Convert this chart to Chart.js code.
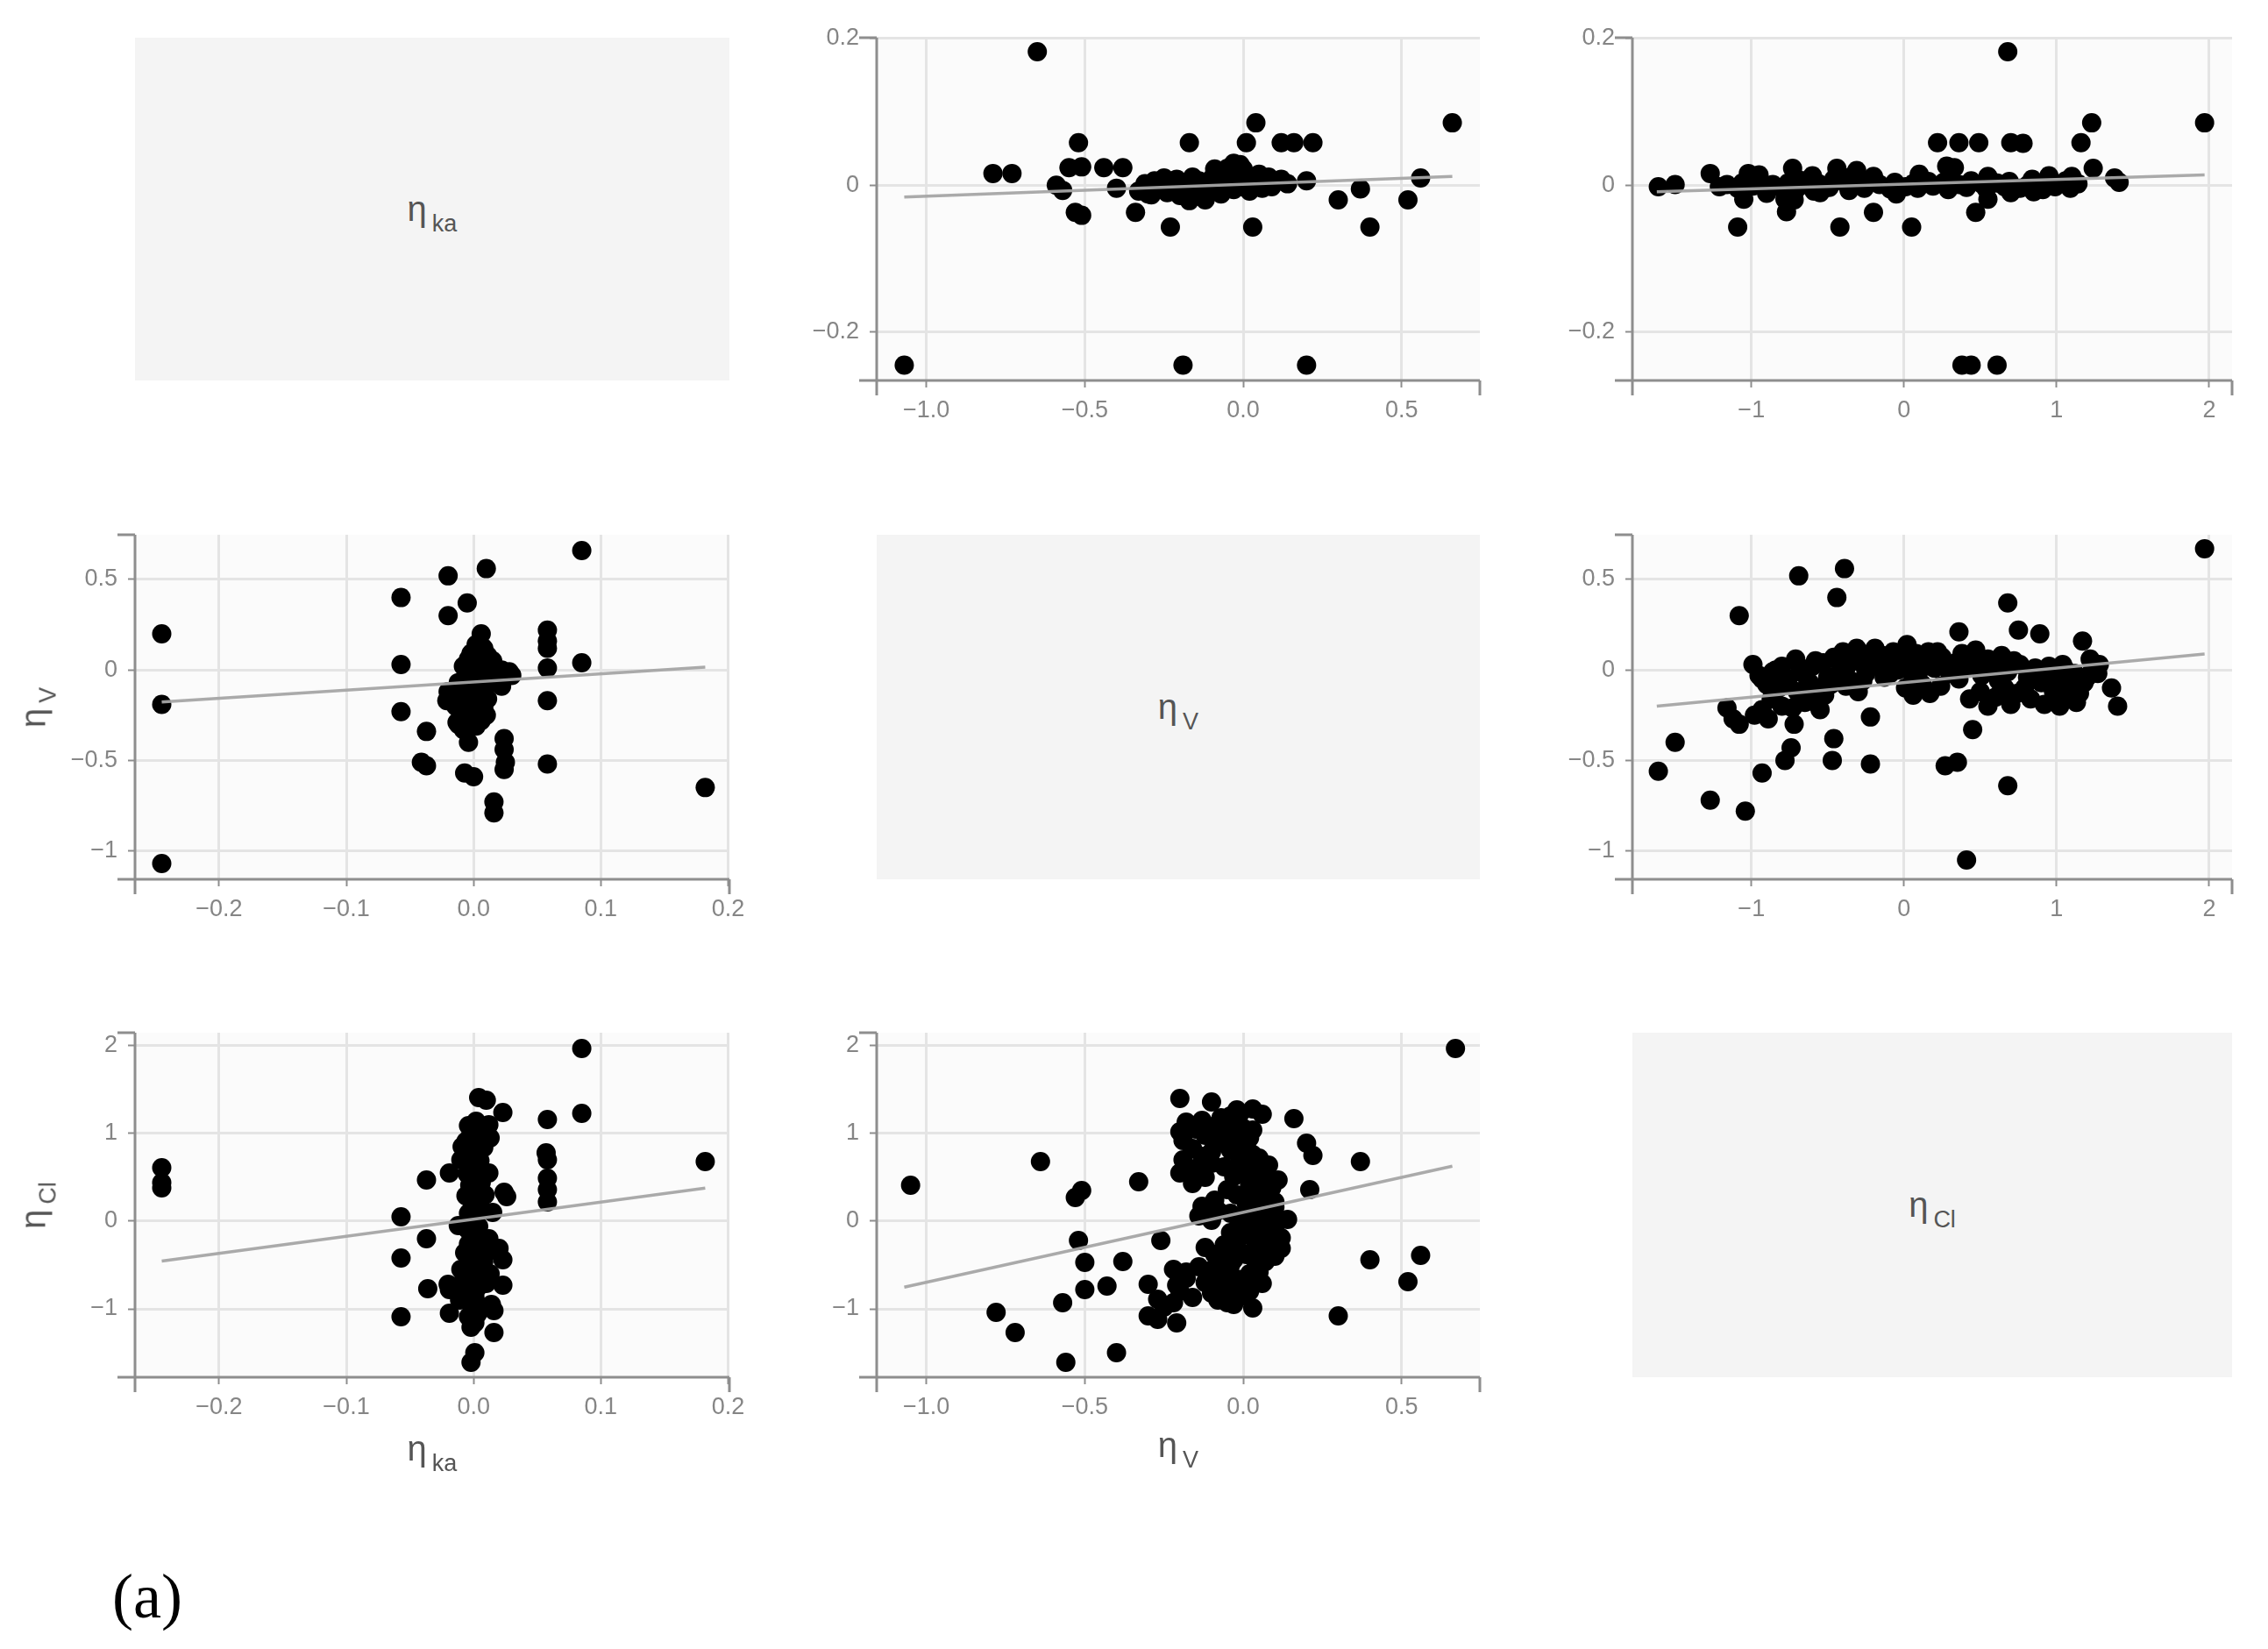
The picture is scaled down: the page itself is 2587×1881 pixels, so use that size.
<!DOCTYPE html>
<html><head><meta charset="utf-8">
<script src="https://cdn.jsdelivr.net/npm/chart.js@4.4.1/dist/chart.umd.min.js"></script>
<style>
html,body{margin:0;padding:0;background:#fff;width:2587px;height:1881px;overflow:hidden;}
body{position:relative;font-family:"Liberation Sans",Arial,sans-serif;}
canvas{position:absolute;}
.diag{position:absolute;background:#f4f4f4;display:flex;align-items:center;justify-content:center;color:#555;font-size:40px;}
.ttl{position:absolute;color:#555;font-size:40px;white-space:nowrap;transform:translate(-50%,-50%);}
.ttl.rot{transform:translate(-50%,-50%) rotate(-90deg);}
.sub{font-size:27px;position:relative;top:0.45em;margin-left:6px;}
.cap{position:absolute;left:128px;top:1780px;font-family:"Liberation Serif","Times New Roman",serif;font-size:72px;color:#000;}
</style>
</head><body>
<script>
// ---------- axis ranges and ticks ----------
const kaRange = [-0.266, 0.201];
const vRange  = [-1.157, 0.747];
const clRange = [-1.78, 2.15];
const kaTicksX = [-0.2, -0.1, 0, 0.1, 0.2];
const kaLabelsX = ["\u22120.2", "\u22120.1", "0.0", "0.1", "0.2"];
const kaTicksY = [-0.2, 0, 0.2];
const kaLabelsY = ["\u22120.2", "0", "0.2"];
const vTicksX = [-1, -0.5, 0, 0.5];
const vLabelsX = ["\u22121.0", "\u22120.5", "0.0", "0.5"];
const vTicksY = [-1, -0.5, 0, 0.5];
const vLabelsY = ["\u22121", "\u22120.5", "0", "0.5"];
const clTicks = [-1, 0, 1, 2];
const clLabels = ["\u22121", "0", "1", "2"];

// ---------- pair data: eta_V vs eta_ka ----------
const kaV_V = [-1.07,-0.19,0.20,-0.65,0.66,0.04,-0.23,0.03,0.40,-0.53,-0.51,-0.34,0.52,0.30,-0.17,-0.12,0.37,-0.57,-0.59,-0.40,0.56,0.20,
 -0.52,-0.17,0.01,0.12,0.16,0.22,-0.79,-0.73,-0.55,-0.51,-0.44,-0.38,0.00,-0.05,-0.09,
 -0.33,-0.31,-0.30,-0.29,-0.28,-0.27,-0.25,-0.24,-0.22,-0.21,-0.20,-0.19,-0.18,-0.16,-0.15,-0.14,-0.13,-0.11,-0.10,-0.09,-0.08,-0.07,-0.06,-0.05,-0.04,-0.03,-0.02,-0.01,0.00,0.01,0.02,0.03,0.04,0.05,0.06,0.07,0.08,0.09,0.10,0.12,0.14,-0.03,-0.01];
const kaV_ka = [-0.245,-0.245,-0.245,0.182,0.085,0.085,-0.057,-0.057,-0.057,-0.037,-0.041,-0.037,-0.020,-0.020,-0.021,-0.020,-0.005,-0.007,0.000,-0.004,0.010,0.006,
 0.058,0.058,0.058,0.058,0.058,0.058,0.016,0.016,0.024,0.025,0.024,0.024,0.022,0.023,0.022,
 -0.008,0.002,-0.012,-0.013,0.006,-0.004,0.010,-0.010,0.000,0.008,-0.014,0.004,-0.006,0.011,-0.002,0.006,-0.010,0.002,0.009,-0.005,0.004,-0.012,0.010,0.000,0.014,-0.006,0.007,-0.002,0.012,0.003,-0.008,0.009,0.000,0.015,-0.004,0.006,0.011,-0.002,0.004,0.008,0.002,0.030,0.028];

// ---------- pair data: eta_Cl vs eta_ka ----------
const kaCl_Cl = [0.68,1.97,1.23,0.38,0.44,0.61,0.22,0.36,0.49,0.70,0.78,1.16,0.05,-0.42,-1.09,0.47,-0.20,-0.77,0.55,-0.72,-0.78,-1.05,
 1.24,0.33,0.28,-0.44,-0.73,-0.31,-1.02,-1.27,-1.61,-1.50,1.38,1.41,-0.72,-0.71,
 1.14,1.09,1.06,0.99,0.96,0.91,0.84,0.81,0.76,0.69,0.66,0.61,0.54,0.51,0.44,0.41,0.36,0.29,0.26,0.19,0.16,0.09,0.06,0.01,
 -0.06,-0.09,-0.16,-0.19,-0.26,-0.29,-0.36,-0.39,-0.46,-0.49,-0.56,-0.59,-0.66,-0.69,-0.76,-0.79,-0.86,-0.89,-0.96,-0.99,-1.06,-1.09,-1.16,-1.21,
 -0.95,-0.60,-0.20,0.10,0.55,0.95,1.10,-0.90,-0.05,0.70,-0.35,0.30,0.85,-0.55];
const kaCl_ka = [0.182,0.085,0.085,-0.245,-0.245,-0.245,0.058,0.058,0.058,0.058,0.057,0.058,-0.057,-0.057,-0.057,-0.037,-0.037,-0.036,-0.019,-0.020,-0.019,-0.019,
 0.023,0.024,0.026,0.023,0.023,0.020,0.016,0.016,-0.002,0.001,0.010,0.004,-0.010,0.010,
 0.002,-0.004,0.006,-0.002,0.004,-0.006,0.008,0.000,-0.004,0.005,-0.002,0.003,-0.005,0.002,0.006,-0.003,0.001,-0.006,0.004,-0.001,0.005,-0.004,0.002,-0.002,
 0.004,-0.005,0.001,0.006,-0.004,0.002,-0.007,0.004,0.008,-0.003,0.002,-0.008,0.006,-0.002,0.003,-0.005,0.001,-0.003,0.004,-0.001,0.003,-0.004,0.001,-0.002,
 0.014,0.013,0.012,0.015,0.012,0.013,0.012,-0.011,-0.012,-0.010,0.011,0.009,-0.009,-0.010];

// ---------- pair data: eta_Cl vs eta_V ----------
const vCl_Cl = [1.97,-0.39,-0.69,-0.44,-1.08,0.68,0.36,0.75,0.89,1.17,-0.99,1.22,1.23,1.36,1.40,0.92,0.45,0.68,0.41,0.27,0.35,-0.22,-0.22,-0.46,-0.47,
 -1.50,-1.61,-1.27,-1.04,-0.93,-0.78,-0.74,-0.73,-0.72,-1.16,-1.12,-1.08,-0.93,-0.89,-0.87,-0.58,-0.55,
 -0.95,-0.90,-0.86,-0.82,-0.80,-0.76,-0.71,-0.70,-0.66,-0.62,-0.60,-0.56,-0.53,-0.50,
 -0.46,-0.44,-0.40,-0.38,-0.35,-0.31,-0.28,-0.25,-0.22,-0.19,-0.16,-0.13,-0.10,-0.07,-0.04,-0.01,0.02,0.05,0.08,
 0.01,0.06,0.12,0.17,0.24,
 0.12,0.16,0.20,0.25,0.30,0.34,0.38,0.42,0.47,0.51,0.55,0.60,0.64,0.68,
 0.43,0.50,0.55,0.60,0.66,0.70,0.74,
 0.76,0.81,0.86,0.90,0.95,1.00,1.04,1.08,1.12,1.15,1.18,1.13,
 1.27,1.28,1.05,0.98,0.83,1.02,-0.52,-0.65,-0.80,-0.98,-0.38,-0.30,
 -0.93,-0.84,-0.78,-0.68,-0.64,-0.58,-0.48,-0.42,-0.33,-0.27,-0.20,-0.14,-0.09,-0.03,0.03,
 0.09,0.14,0.22,0.28,0.36,0.45,0.53,0.62,0.72,0.79,0.88,0.97,1.06,1.10,1.20];
const vCl_V = [0.67,0.56,0.52,0.40,0.30,0.37,0.21,0.22,0.20,0.16,0.03,0.06,-0.01,-0.10,-0.20,-0.19,-0.33,-0.64,-1.05,-0.53,-0.51,-0.26,-0.52,-0.38,-0.50,
 -0.40,-0.56,-0.72,-0.78,-0.57,-0.50,-0.43,-0.21,-0.30,-0.21,-0.27,-0.30,-0.22,-0.27,-0.16,-0.18,-0.22,
 -0.03,-0.08,-0.01,-0.10,0.02,-0.05,0.06,-0.12,-0.02,-0.07,0.02,-0.10,0.04,-0.04,
 0.07,-0.03,0.10,0.01,-0.06,0.12,0.04,-0.02,0.09,0.12,0.02,-0.04,0.06,0.10,0.00,0.05,0.14,0.03,0.09,
 -0.10,-0.14,-0.08,-0.13,-0.09,
 0.05,0.10,0.01,0.07,-0.02,0.04,0.09,0.02,0.11,-0.03,0.06,0.01,0.08,-0.01,
 -0.16,-0.12,-0.20,-0.15,-0.10,-0.19,-0.13,
 0.03,-0.04,0.01,-0.07,0.02,-0.05,0.03,-0.09,-0.02,-0.13,-0.07,-0.18,
 -0.02,0.03,-0.15,-0.12,-0.16,-0.20,-0.14,-0.18,-0.20,-0.25,-0.09,-0.12,
 -0.05,0.00,-0.08,0.01,-0.10,0.05,-0.08,0.04,0.08,-0.06,0.05,0.08,-0.02,0.09,0.00,
 -0.04,0.02,0.10,0.03,-0.05,0.06,0.02,-0.06,0.05,-0.10,-0.02,-0.09,0.00,-0.12,-0.04];

// ---------- fitted lines (end points) ----------
const fitKaOnV_x = [-1.07, 0.66],  fitKaOnV_y = [-0.016, 0.012];
const fitKaOnCl_x = [-1.62, 1.97], fitKaOnCl_y = [-0.009, 0.014];
const fitVOnKa_x = [-0.245, 0.182], fitVOnKa_y = [-0.177, 0.016];
const fitVOnCl_x = [-1.62, 1.97],  fitVOnCl_y = [-0.20, 0.088];
const fitClOnKa_x = [-0.245, 0.182], fitClOnKa_y = [-0.455, 0.377];
const fitClOnV_x = [-1.07, 0.66],  fitClOnV_y = [-0.753, 0.627];

// ---------- layout ----------
const colX = [[154, 832], [1000, 1688], [1862, 2546]];
const rowY = [[43, 434], [610, 1003], [1178, 1571]];
const PADL = 110, PADT = 24, PADR = 34, PADB = 76;

const AX = {
  ka: {range: kaRange, xt: kaTicksX, xl: kaLabelsX, yt: kaTicksY, yl: kaLabelsY},
  V:  {range: vRange,  xt: vTicksX,  xl: vLabelsX,  yt: vTicksY,  yl: vLabelsY},
  Cl: {range: clRange, xt: clTicks,  xl: clLabels,  yt: clTicks,  yl: clLabels}
};

const panels = [
  {r:0, c:1, x:'V',  y:'ka', xs:kaV_V,   ys:kaV_ka,  fx:fitKaOnV_x,  fy:fitKaOnV_y},
  {r:0, c:2, x:'Cl', y:'ka', xs:kaCl_Cl, ys:kaCl_ka, fx:fitKaOnCl_x, fy:fitKaOnCl_y},
  {r:1, c:0, x:'ka', y:'V',  xs:kaV_ka,  ys:kaV_V,   fx:fitVOnKa_x,  fy:fitVOnKa_y},
  {r:1, c:2, x:'Cl', y:'V',  xs:vCl_Cl,  ys:vCl_V,   fx:fitVOnCl_x,  fy:fitVOnCl_y},
  {r:2, c:0, x:'ka', y:'Cl', xs:kaCl_ka, ys:kaCl_Cl, fx:fitClOnKa_x, fy:fitClOnKa_y},
  {r:2, c:1, x:'V',  y:'Cl', xs:vCl_V,   ys:vCl_Cl,  fx:fitClOnV_x,  fy:fitClOnV_y}
];

const AXIS_COLOR = '#8e8e8e', GRID_COLOR = '#e4e4e4', TICK_TEXT = '#858585';
const tickFont = {family: '"Liberation Sans", Arial, sans-serif', size: 27};

const bgPlugin = {
  id: 'bg',
  beforeDraw(chart) {
    const a = chart.chartArea, ctx = chart.ctx;
    ctx.save(); ctx.fillStyle = '#fbfbfb';
    ctx.fillRect(a.left, a.top, a.right - a.left, a.bottom - a.top);
    ctx.restore();
  }
};
const axisPlugin = {
  id: 'axlines',
  afterDraw(chart) {
    const a = chart.chartArea, ctx = chart.ctx;
    ctx.save(); ctx.strokeStyle = AXIS_COLOR; ctx.lineWidth = 3; ctx.lineCap = 'butt';
    ctx.beginPath();
    ctx.moveTo(a.left, a.top); ctx.lineTo(a.left, a.bottom + 17);
    ctx.moveTo(a.left - 20, a.bottom); ctx.lineTo(a.right, a.bottom);
    ctx.moveTo(a.right, a.bottom); ctx.lineTo(a.right, a.bottom + 17);
    ctx.moveTo(a.left - 20, a.top); ctx.lineTo(a.left, a.top);
    ctx.stroke(); ctx.restore();
  }
};

function scaleOpts(ax, isX) {
  const vals = isX ? ax.xt : ax.yt, labs = isX ? ax.xl : ax.yl;
  return {
    type: 'linear', min: ax.range[0], max: ax.range[1],
    afterBuildTicks: s => { s.ticks = vals.map(v => ({value: v})); },
    afterFit: s => {
      if (isX) { s.height = PADB; s.paddingLeft = 0; s.paddingRight = 0; }
      else { s.width = PADL; s.paddingTop = 0; s.paddingBottom = 0; }
    },
    ticks: {callback: (v, i) => labs[i], font: tickFont, color: TICK_TEXT,
            padding: isX ? 10 : 12, autoSkip: false, maxRotation: 0, minRotation: 0},
    grid: {color: GRID_COLOR, lineWidth: 3, tickLength: 8, tickColor: AXIS_COLOR, tickWidth: 2, drawOnChartArea: true},
    border: {display: false}
  };
}

function makeChart(p) {
  const [L, R] = colX[p.c], [T, B] = rowY[p.r];
  const cv = document.createElement('canvas');
  const w = R - L + PADL + PADR, h = B - T + PADT + PADB;
  cv.width = w; cv.height = h;
  cv.style.width = w + 'px'; cv.style.height = h + 'px';
  cv.style.left = (L - PADL) + 'px'; cv.style.top = (T - PADT) + 'px';
  document.body.appendChild(cv);
  const pts = p.xs.map((x, i) => ({x: x, y: p.ys[i]}));
  const fit = p.fx.map((x, i) => ({x: x, y: p.fy[i]}));
  new Chart(cv, {
    type: 'scatter',
    data: {datasets: [
      {type: 'line', data: fit, borderColor: 'rgba(165,165,165,0.95)', borderWidth: 3.5, pointRadius: 0, fill: false, order: 0},
      {type: 'scatter', data: pts, backgroundColor: '#000', borderWidth: 0, pointRadius: 11, pointHoverRadius: 11, order: 1}
    ]},
    options: {
      responsive: false, animation: false, devicePixelRatio: 1,
      layout: {padding: {left: 0, top: PADT, right: PADR, bottom: 0}},
      plugins: {legend: {display: false}, tooltip: {enabled: false}},
      scales: {x: scaleOpts(AX[p.x], true), y: scaleOpts(AX[p.y], false)}
    },
    plugins: [bgPlugin, axisPlugin]
  });
}
panels.forEach(makeChart);

// ---------- diagonal label panels and axis titles (HTML text) ----------
const names = {ka: 'ka', V: 'V', Cl: 'Cl'};
['ka', 'V', 'Cl'].forEach((k, i) => {
  const d = document.createElement('div');
  d.className = 'diag';
  const [L, R] = colX[i], [T, B] = rowY[i];
  d.style.left = L + 'px'; d.style.top = T + 'px';
  d.style.width = (R - L) + 'px'; d.style.height = (B - T) + 'px';
  d.innerHTML = '<span>\u03b7<span class="sub">' + names[k] + '</span></span>';
  document.body.appendChild(d);
});
function title(txt, cx, cy, rot) {
  const d = document.createElement('div');
  d.className = 'ttl' + (rot ? ' rot' : '');
  d.style.left = cx + 'px'; d.style.top = cy + 'px';
  d.innerHTML = '\u03b7<span class="sub">' + txt + '</span>';
  document.body.appendChild(d);
}
title('V', 38, (rowY[1][0] + rowY[1][1]) / 2, true);
title('Cl', 38, (rowY[2][0] + rowY[2][1]) / 2, true);
title('ka', (colX[0][0] + colX[0][1]) / 2, 1652, false);
title('V', (colX[1][0] + colX[1][1]) / 2, 1648, false);
const cap = document.createElement('div');
cap.className = 'cap'; cap.textContent = '(a)';
document.body.appendChild(cap);
</script>
</body></html>
